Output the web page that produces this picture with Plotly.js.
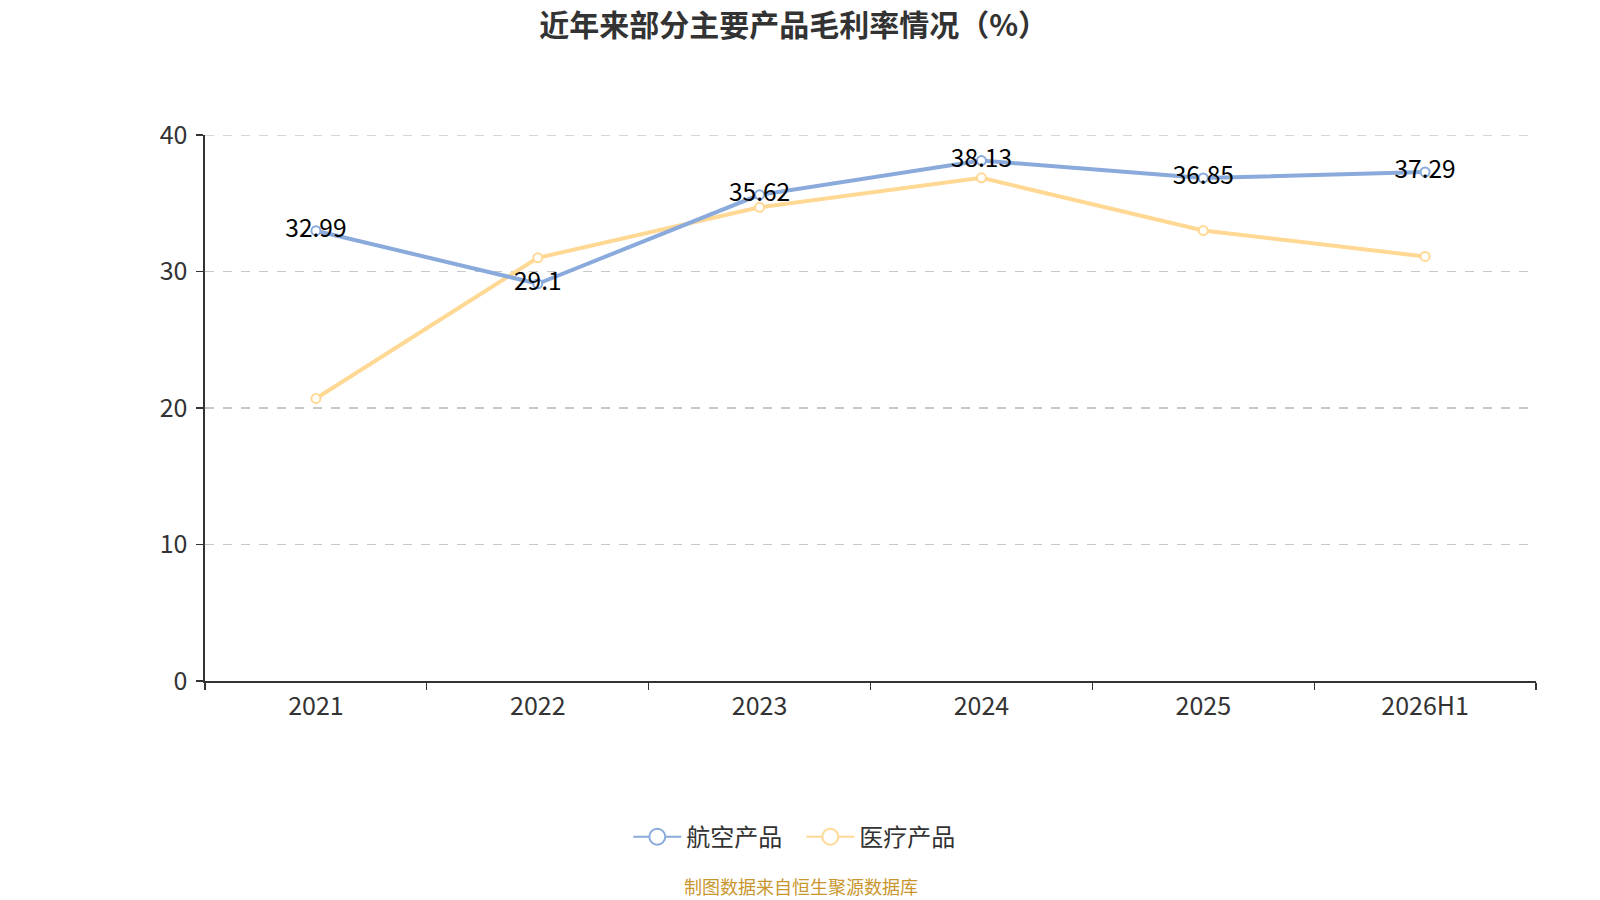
<!DOCTYPE html>
<html>
<head>
<meta charset="utf-8">
<script src="https://cdn.plot.ly/plotly-3.0.1.min.js"></script>
<style>html,body{margin:0;padding:0;background:#fff;}#chart{width:1600px;height:900px;}</style>
</head>
<body>
<div id="chart"></div>
<script>
const categories = ["2021", "2022", "2023", "2024", "2025", "2026H1"];
const aviation = [32.99, 29.1, 35.62, 38.13, 36.85, 37.29];
const medical = [20.7, 31.0, 34.7, 36.86, 33.0, 31.1];
const aviationName = "航空产品";
const medicalName = "医疗产品";
const yTicks = [0, 10, 20, 30, 40];

const blue = "#8AAADC";
const yellow = "#FFD894";
const font = "'Noto Sans CJK SC', 'Noto Sans', sans-serif";

const traces = [
  {
    x: categories, y: medical, type: "scatter", mode: "lines+markers",
    name: medicalName, showlegend: false,
    line: {color: yellow, width: 4},
    marker: {symbol: "circle", size: 9, color: "#fff", line: {color: yellow, width: 2}},
    hoverinfo: "skip"
  },
  {
    x: categories, y: aviation, type: "scatter", mode: "lines+markers+text",
    name: aviationName, showlegend: false,
    line: {color: blue, width: 4},
    marker: {symbol: "circle", size: 9, color: "#fff", line: {color: blue, width: 2}},
    text: aviation.map(v => String(v)),
    textposition: "middle center",
    textfont: {family: font, size: 24.5, color: "#000"},
    hoverinfo: "skip"
  },
  {
    x: [null], y: [null], type: "scatter", mode: "lines+markers", name: aviationName,
    line: {color: blue, width: 2},
    marker: {symbol: "circle", size: 16, color: "#fff", line: {color: blue, width: 2}}
  },
  {
    x: [null], y: [null], type: "scatter", mode: "lines+markers", name: medicalName,
    line: {color: yellow, width: 2},
    marker: {symbol: "circle", size: 16, color: "#fff", line: {color: yellow, width: 2}}
  }
];

const layout = {
  width: 1600, height: 900,
  paper_bgcolor: "#fff", plot_bgcolor: "#fff",
  margin: {l: 205, r: 64, t: 135, b: 219},
  font: {family: font, color: "#333"},
  title: {
    text: "<b>近年来部分主要产品毛利率情况（%）</b>",
    font: {family: font, size: 30, color: "#333"},
    x: 0.496, xanchor: "center", xref: "container",
    y: 0.972, yanchor: "middle", yref: "container"
  },
  xaxis: {
    type: "category",
    range: [-0.5, 5.5],
    tickson: "boundaries",
    ticks: "outside", ticklen: 7, tickwidth: 1.3, tickcolor: "#333",
    showline: true, linecolor: "#333", linewidth: 1.6,
    showgrid: false, zeroline: false,
    tickfont: {family: font, size: 25, color: "#333"},
    ticklabelstandoff: 2,
    fixedrange: true
  },
  yaxis: {
    range: [0, 40],
    tickvals: yTicks,
    ticks: "outside", ticklen: 7, tickwidth: 1.3, tickcolor: "#333",
    showline: true, linecolor: "#333", linewidth: 1.6,
    showgrid: true, gridcolor: "#c8c8c8", griddash: "dash", gridwidth: 1.5,
    zeroline: false,
    tickfont: {family: font, size: 25, color: "#333"},
    ticklabelstandoff: 4,
    fixedrange: true
  },
  shapes: [{
    type: "line", xref: "paper", yref: "y", layer: "below",
    x0: 0, x1: 1, y0: yTicks[yTicks.length - 1], y1: yTicks[yTicks.length - 1],
    line: {color: "#c8c8c8", width: 1.5, dash: "dash"}
  }],
  legend: {
    orientation: "h", x: 0.448, xanchor: "center", y: -0.286, yanchor: "middle",
    font: {family: font, size: 24, color: "#333"},
    itemwidth: 48, entrywidth: 110, traceorder: "normal"
  },
  annotations: [{
    text: "制图数据来自恒生聚源数据库",
    xref: "paper", yref: "paper", x: 0.448, y: -0.376,
    xanchor: "center", yanchor: "middle", showarrow: false,
    font: {family: font, size: 18, color: "#C9962E"}
  }]
};

Plotly.newPlot("chart", traces, layout, {displayModeBar: false, staticPlot: true});
</script>
</body>
</html>
